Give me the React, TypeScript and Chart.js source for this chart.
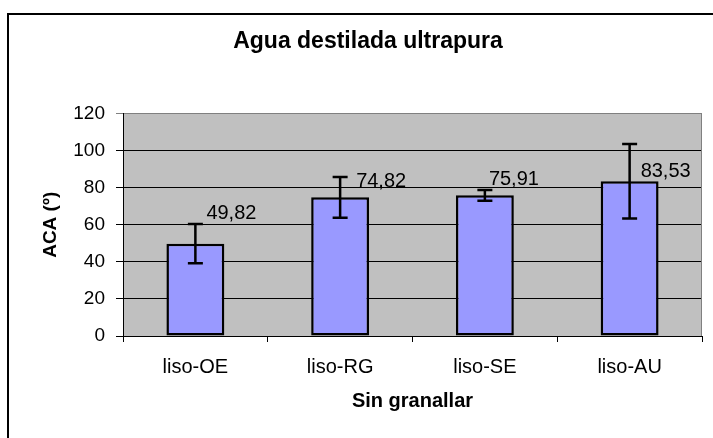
import React, { useEffect, useRef } from "react";
import { Chart, registerables } from "chart.js";

Chart.register(...registerables);

const categories = ["liso-OE", "liso-RG", "liso-SE", "liso-AU"];
const values = [49.82, 74.82, 75.91, 83.53];
const errors = [10.6, 11.0, 2.9, 20.1];
const valueLabels = ["49,82", "74,82", "75,91", "83,53"];
const yMin = 0;
const yMax = 120;
const yStep = 20;

const chartTitle = "Agua destilada ultrapura";
const xTitle = "Sin granallar";
const yTitle = "ACA (º)";

const FONT = "'Liberation Sans', Arial, sans-serif";

// label placement relative to bar (left x, baseline y), px
const labelOffsets = [
  { dx: 11, dy: -25 },
  { dx: 16, dy: -10 },
  { dx: 4, dy: -10 },
  { dx: 11, dy: -4 },
];

const framePlugin = {
  id: "framePlugin",
  beforeDraw(chart: any) {
    const { ctx, chartArea } = chart;
    ctx.save();
    ctx.fillStyle = "#ffffff";
    ctx.fillRect(0, 0, chart.width, chart.height);
    ctx.fillStyle = "#C0C0C0";
    ctx.fillRect(chartArea.left, chartArea.top, chartArea.right - chartArea.left, chartArea.bottom - chartArea.top);
    ctx.strokeStyle = "#000000";
    ctx.lineWidth = 2;
    ctx.strokeRect(8, 14, 900, 600);
    ctx.restore();
  },
  beforeDatasetsDraw(chart: any) {
    const { ctx, chartArea } = chart;
    ctx.save();
    ctx.strokeStyle = "#808080";
    ctx.lineWidth = 1;
    ctx.beginPath();
    ctx.moveTo(chartArea.right - 0.5, chartArea.top);
    ctx.lineTo(chartArea.right - 0.5, chartArea.bottom);
    ctx.stroke();
    ctx.restore();
  },
  afterDatasetsDraw(chart: any) {
    const { ctx } = chart;
    const meta = chart.getDatasetMeta(0);
    const yScale = chart.scales.y;
    ctx.save();
    meta.data.forEach((bar: any, i: number) => {
      const x = bar.x;
      const yTop = yScale.getPixelForValue(values[i] + errors[i]);
      const yBot = yScale.getPixelForValue(values[i] - errors[i]);
      ctx.strokeStyle = "#000000";
      ctx.lineWidth = 2.5;
      ctx.beginPath();
      ctx.moveTo(x, yTop);
      ctx.lineTo(x, yBot);
      ctx.moveTo(x - 7.5, yTop);
      ctx.lineTo(x + 7.5, yTop);
      ctx.moveTo(x - 7.5, yBot);
      ctx.lineTo(x + 7.5, yBot);
      ctx.stroke();
    });
    ctx.fillStyle = "#000000";
    ctx.font = `20px ${FONT}`;
    ctx.textAlign = "left";
    ctx.textBaseline = "alphabetic";
    meta.data.forEach((bar: any, i: number) => {
      const off = labelOffsets[i];
      ctx.fillText(valueLabels[i], bar.x + off.dx, bar.y + off.dy);
    });
    ctx.restore();
  },
};

export default function App() {
  const ref = useRef<HTMLCanvasElement | null>(null);
  useEffect(() => {
    if (!ref.current) return;
    const chart = new Chart(ref.current, {
      type: "bar",
      data: {
        labels: categories,
        datasets: [
          {
            data: values,
            backgroundColor: "#9999FF",
            borderColor: "#000000",
            borderWidth: 2.5,
            borderSkipped: false,
            categoryPercentage: 1,
            barPercentage: 0.4,
          },
        ],
      },
      options: {
        responsive: false,
        animation: false,
        layout: { padding: { left: 34, right: 11, top: 0, bottom: 0 } },
        plugins: {
          legend: { display: false },
          tooltip: { enabled: false },
          title: {
            display: true,
            text: chartTitle,
            color: "#000000",
            font: { family: FONT, size: 23, weight: "bold", lineHeight: 1.2 },
            padding: { top: 28, bottom: 58 },
          },
        },
        scales: {
          x: {
            afterFit: (scale: any) => {
              scale.height = 102;
            },
            grid: {
              display: true,
              drawOnChartArea: false,
              drawTicks: true,
              tickLength: 6,
              color: "#000000",
              offset: true,
            },
            border: { display: true, color: "#000000", width: 1 },
            ticks: {
              color: "#000000",
              font: { family: FONT, size: 20 },
              padding: 13,
              maxRotation: 0,
            },
            title: {
              display: true,
              text: xTitle,
              color: "#000000",
              font: { family: FONT, size: 20, weight: "bold", lineHeight: 1.2 },
              padding: { top: 0, bottom: 25 },
            },
          },
          y: {
            min: yMin,
            max: yMax,
            afterFit: (scale: any) => {
              scale.width = 89;
            },
            grid: {
              display: true,
              drawOnChartArea: true,
              drawTicks: true,
              tickLength: 7,
              color: (c: any) => (c.tick && c.tick.value === yMax ? "#808080" : "#000000"),
            },
            border: { display: true, color: "#000000", width: 1 },
            ticks: {
              stepSize: yStep,
              color: "#000000",
              font: { family: FONT, size: 19 },
              padding: 11,
            },
            title: {
              display: true,
              text: yTitle,
              color: "#000000",
              font: { family: FONT, size: 19, weight: "bold", lineHeight: 1.2 },
              padding: { top: 5, bottom: 0 },
            },
          },
        },
      },
      plugins: [framePlugin],
    } as any);
    return () => chart.destroy();
  }, []);
  return (
    <div style={{ position: "absolute", left: 0, top: 0, width: 713, height: 438 }}>
      <canvas ref={ref} width={713} height={438} style={{ display: "block" }} />
    </div>
  );
}
